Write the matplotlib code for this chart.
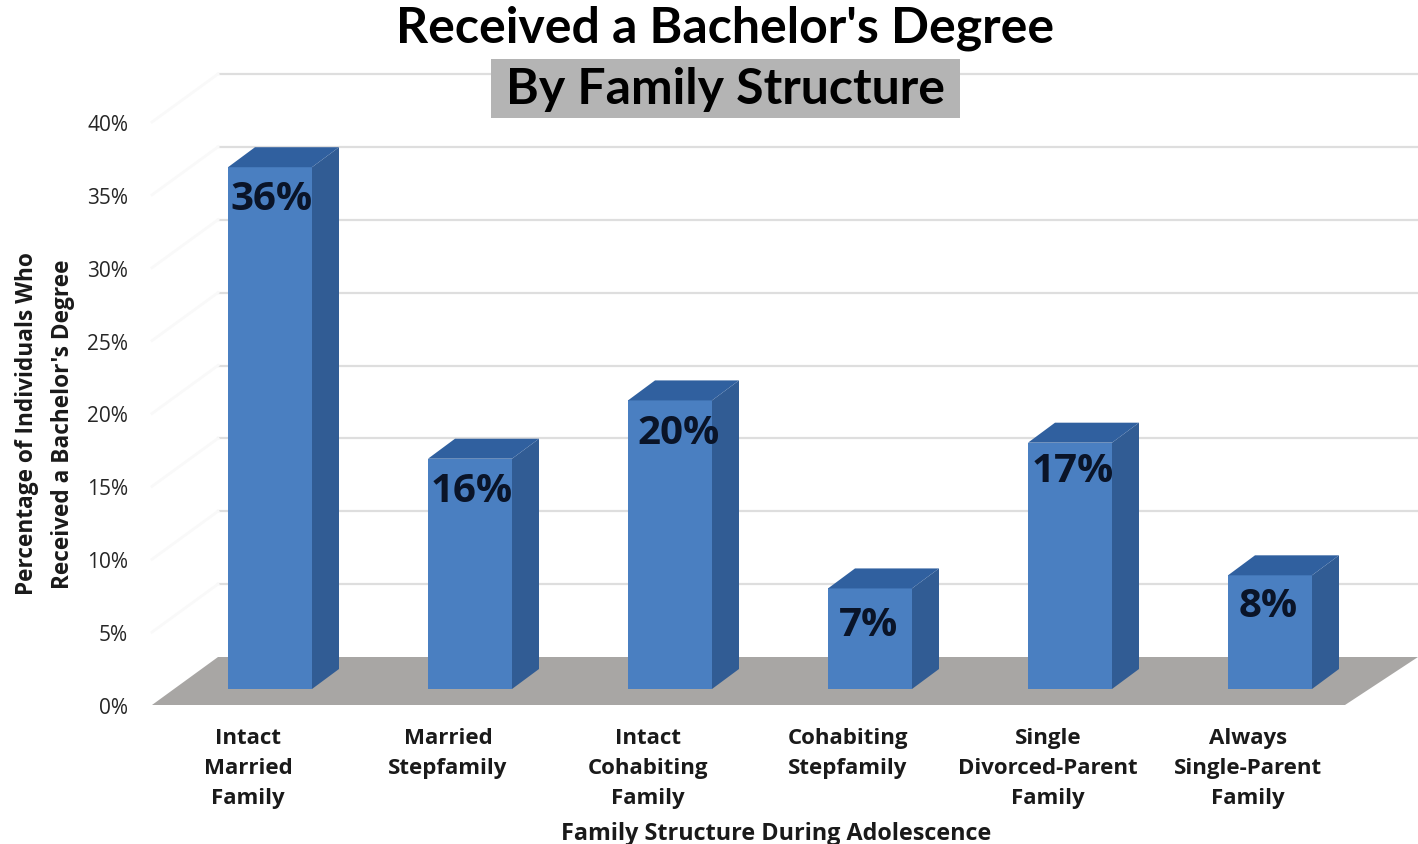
import matplotlib
matplotlib.use('Agg')
import matplotlib.pyplot as plt
import numpy as np
from matplotlib.patches import Polygon, Rectangle

# values
categories = ['Intact\nMarried\nFamily', 'Married\nStepfamily', 'Intact\nCohabiting\nFamily',
              'Cohabiting\nStepfamily', 'Single\nDivorced-Parent\nFamily', 'Always\nSingle-Parent\nFamily']
values = [35.8, 15.8, 19.8, 6.9, 16.9, 7.8]
labels = ['36%', '16%', '20%', '7%', '17%', '8%']
yticks = [0, 5, 10, 15, 20, 25, 30, 35, 40]

W, H = 1418, 845
# pixel box of the axes: 0% at y=706, 40% at y=123, bars 200 px apart
L, R, B, T = 135, 1418, 706, 123
PX_X = 200.0
PX_Y = (B - T) / 40.0

fig = plt.figure(figsize=(W / 100, H / 100), dpi=100)
ax = fig.add_axes([L / W, 1 - B / H, (R - L) / W, (B - T) / H])
ax.set_xlim((L - 270) / PX_X, (R - 270) / PX_X)
ax.set_ylim(0, 40)
for s in ax.spines.values():
    s.set_visible(False)

x = np.arange(len(values))
bar_w = 84 / PX_X
base = 16 / PX_Y      # bars stand a little behind the front edge of the floor
dx, dy = 27 / PX_X, 20 / PX_Y
wall_dy = 48 / PX_Y

# back wall gridlines and faint side wall
xl_front, xr_front = (152 - 270) / PX_X, (1345 - 270) / PX_X
xl_back, xr_back = (218 - 270) / PX_X, (1418 - 270) / PX_X
for t in yticks[1:]:
    ax.plot([xl_back, xr_back], [t + wall_dy, t + wall_dy], color='#dedede', lw=1.6,
            clip_on=False, zorder=1)
    ax.plot([xl_front, xl_back], [t, t + wall_dy], color='#f9f9f9', lw=2,
            clip_on=False, zorder=1)

# floor
ax.add_patch(Polygon([(xl_front, 0), (xr_front, 0), (xr_back, wall_dy), (xl_back, wall_dy)],
                     closed=True, fc='#a8a6a4', ec='none', zorder=2, clip_on=False))

# bars: front from ax.bar, side and top as skewed faces
ax.bar(x, values, width=bar_w, bottom=base, color='#4a7fc1',
       edgecolor='none', zorder=3, clip_on=False)
for xi, v in zip(x, values):
    r = xi + bar_w / 2
    l = xi - bar_w / 2
    top = base + v
    ax.add_patch(Polygon([(r, base), (r + dx, base + dy), (r + dx, top + dy), (r, top)],
                         closed=True, fc='#315c94', ec='none', zorder=3, clip_on=False))
    ax.add_patch(Polygon([(l, top), (r, top), (r + dx, top + dy), (l + dx, top + dy)],
                         closed=True, fc='#30609f', ec='none', zorder=3, clip_on=False))

# data labels, nudged per bar as in the picture
label_dx = [2, 2, 9, -1, 3, -2]
label_dy = [-31, -32, -32, -36, -28, -30]
for xi, v, s, ox, oy in zip(x, values, labels, label_dx, label_dy):
    ax.annotate(s, (xi, base + v), xytext=(ox * 0.72, oy * 0.72), textcoords='offset points',
                ha='center', va='center', fontsize=29, fontweight='bold', family='Open Sans',
                color='#0a1428', zorder=5)

# ticks
ax.set_yticks(yticks)
ax.set_yticklabels([f'{t}%' for t in yticks], fontsize=15, family='Open Sans', color='#262626')
ax.set_xticks(x - 22 / PX_X)
ax.set_xticklabels(categories, fontsize=16, family='Open Sans', fontweight='bold',
                   color='#1a1a1a', linespacing=1.56)
ax.tick_params(axis='both', length=0)
ax.tick_params(axis='y', pad=5)
ax.tick_params(axis='x', pad=16)

fig.text(776 / W, 1 - 834 / H, 'Family Structure During Adolescence', ha='center', va='center',
         fontsize=16.8, family='Open Sans', fontweight='bold', color='#1a1a1a')
fig.text(45 / W, 1 - 424 / H, "Percentage of Individuals Who\nReceived a Bachelor's Degree",
         rotation=90, ha='center', va='center', multialignment='center', fontsize=16.3,
         family='Open Sans', fontweight='bold', color='#1a1a1a', linespacing=1.63)

# title
fig.text(725 / W, 1 - 28 / H, "Received a Bachelor's Degree", ha='center', va='center',
         fontsize=36, family='Lato', fontweight='bold', color='black')
fig.add_artist(Rectangle((491 / W, 1 - 119 / H), 469 / W, 59 / H, transform=fig.transFigure,
                         fc='#b4b4b4', ec='none', zorder=4))
fig.text(725 / W, 1 - 90 / H, 'By Family Structure', ha='center', va='center',
         fontsize=36, family='Lato', fontweight='bold', color='black', zorder=5)

fig.savefig('out.png', dpi=100)
